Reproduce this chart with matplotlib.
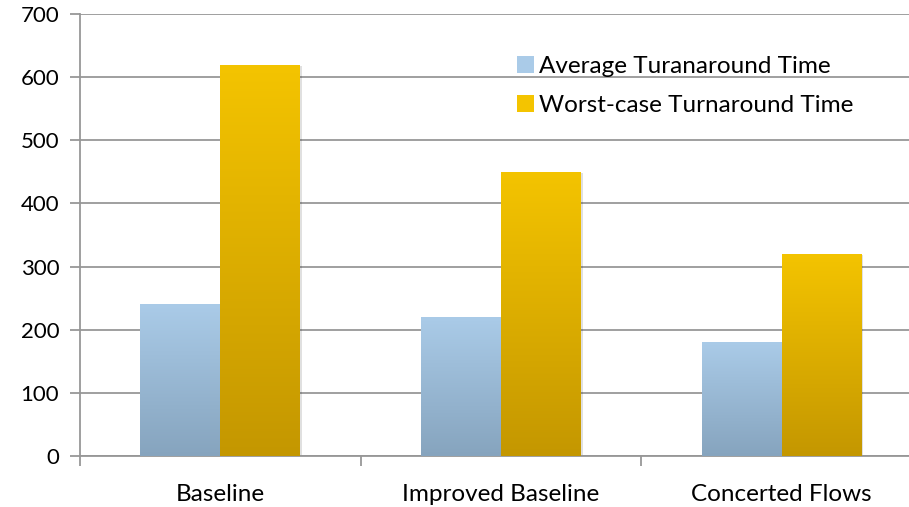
import numpy as np
import matplotlib.pyplot as plt
from matplotlib.patches import Rectangle
from matplotlib.colors import LinearSegmentedColormap

plt.rcParams['font.family'] = ['Lato', 'DejaVu Sans']

categories = ["Baseline", "Improved Baseline", "Concerted Flows"]
avg_turnaround = [240, 220, 180]
worst_turnaround = [620, 450, 320]
series_names = ["Average Turanaround Time", "Worst-case Turnaround Time"]
y_ticks = [0, 100, 200, 300, 400, 500, 600, 700]

# top -> bottom colours for each gradient fill
blue_grad = ("#aacbe8", "#86a4be")
gold_grad = ("#f4c400", "#c49700")

W, H = 909, 507
fig = plt.figure(figsize=(W / 100, H / 100), dpi=100)
ax = fig.add_axes([80 / W, 51 / H, 842 / W, 442 / H])

x = np.arange(len(categories))
bar_w = 0.285


def gradient_bars(xs, heights, colors):
    cmap = LinearSegmentedColormap.from_list("g", [colors[1], colors[0]])
    grad = np.linspace(0, 1, 256).reshape(-1, 1)
    for xc, h in zip(xs, heights):
        # soft drop shadow
        sh = Rectangle((xc - bar_w / 2 + 0.006, -2), bar_w, h, facecolor="#000000",
                       alpha=0.12, edgecolor="none", zorder=2)
        ax.add_patch(sh)
        rect = Rectangle((xc - bar_w / 2, 0), bar_w, h, facecolor="none",
                         edgecolor="none", zorder=3)
        ax.add_patch(rect)
        im = ax.imshow(grad, cmap=cmap, aspect="auto", origin="lower",
                       extent=(xc - bar_w / 2, xc + bar_w / 2, 0, h), zorder=3)
        im.set_clip_path(rect)


gradient_bars(x - bar_w / 2, avg_turnaround, blue_grad)
gradient_bars(x + bar_w / 2, worst_turnaround, gold_grad)

ax.set_xlim(-0.5, len(categories) - 0.5)
ax.set_ylim(0, 700)
ax.set_yticks(y_ticks)
ax.set_yticklabels([str(t) for t in y_ticks], fontsize=16)
ax.set_xticks(x)
ax.set_xticklabels(categories, fontsize=17.5)
ax.set_xticks(np.arange(len(categories) + 1) - 0.5, minor=True)

ax.yaxis.grid(True, color="#979797", linewidth=1.3, zorder=0)
ax.set_axisbelow(True)
for s in ["top", "right"]:
    ax.spines[s].set_visible(False)
for s in ["left", "bottom"]:
    ax.spines[s].set_color("#979797")
    ax.spines[s].set_linewidth(1.3)

ax.tick_params(axis="y", which="major", length=7, width=1.3, color="#979797",
               pad=8, labelcolor="#000000")
ax.tick_params(axis="x", which="major", length=0, pad=20, labelcolor="#000000")
ax.tick_params(axis="x", which="minor", length=7, width=1.3, color="#979797")

# legend
handles = [Rectangle((0, 0), 1, 1, facecolor=blue_grad[0], edgecolor="none"),
           Rectangle((0, 0), 1, 1, facecolor=gold_grad[0], edgecolor="none")]
leg = fig.legend(handles, series_names, loc="upper left",
                 bbox_to_anchor=(517 / W, 1 - 56 / H), bbox_transform=fig.transFigure,
                 frameon=False, fontsize=17.5, handlelength=0.7, handleheight=0.7,
                 handletextpad=0.22, labelspacing=0.72, borderpad=0, borderaxespad=0)

fig.savefig("out.png", dpi=100)
